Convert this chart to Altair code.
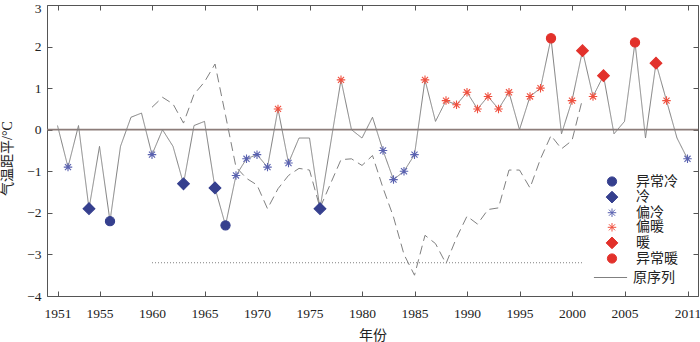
import altair as alt
import pandas as pd

# ---------------- data ----------------
YEARS = list(range(1951, 2012))
ANOMALY = [0.1, -0.9, 0.1, -1.9, -0.4, -2.2, -0.4, 0.3, 0.4, -0.6,
           0.0, -0.4, -1.3, 0.1, 0.2, -1.4, -2.3, -1.1, -0.7, -0.6,
           -0.9, 0.5, -0.8, -0.2, -0.2, -1.9, -0.35, 1.2, 0.0, -0.2,
           0.3, -0.5, -1.2, -1.0, -0.6, 1.2, 0.2, 0.7, 0.6, 0.9,
           0.5, 0.8, 0.5, 0.9, 0.0, 0.8, 1.0, 2.2, -0.1, 0.7,
           1.9, 0.8, 1.3, -0.1, 0.2, 2.1, -0.2, 1.6, 0.7, -0.2,
           -0.7]
GRADE = ["", "偏冷", "", "冷", "", "异常冷", "", "", "", "偏冷",
         "", "", "冷", "", "", "冷", "异常冷", "偏冷", "偏冷", "偏冷",
         "偏冷", "偏暖", "偏冷", "", "", "冷", "", "偏暖", "", "",
         "", "偏冷", "偏冷", "偏冷", "偏冷", "偏暖", "", "偏暖", "偏暖", "偏暖",
         "偏暖", "偏暖", "偏暖", "偏暖", "", "偏暖", "偏暖", "异常暖", "", "偏暖",
         "暖", "偏暖", "暖", "", "", "异常暖", "", "暖", "偏暖", "",
         "偏冷"]

DASH_YEARS = list(range(1960, 2002))
DASH_VALUES = [0.54, 0.78, 0.62, 0.16, 0.85, 1.15, 1.58, 0.35, -0.9, -1.17,
               -1.33, -1.9, -1.42, -1.1, -0.93, -0.97, -1.88, -1.3, -0.72, -0.7,
               -0.86, -0.62, -1.4, -2.1, -3.0, -3.5, -2.54, -2.74, -3.22, -2.6,
               -2.08, -2.27, -1.92, -1.88, -0.97, -0.97, -1.4, -0.7, -0.14, -0.46,
               -0.26, 0.74]

THRESH_YEARS = [1960, 2001]
THRESH_VALUES = [-3.2, -3.2]
ZERO = [0]

CATEGORIES = ["异常冷", "冷", "偏冷", "偏暖", "暖", "异常暖"]
SERIES_NAME = "原序列"

X_TICKS = [1951, 1955, 1960, 1965, 1970, 1975, 1980, 1985, 1990, 1995, 2000, 2005, 2011]
Y_TICKS = [-4, -3, -2, -1, 0, 1, 2, 3]
Y_TICKS_LOW = [-4, -3, -2, -1, 0, 1, 2]
Y_TICK_TOP = [3]

# ---------------- tables ----------------
series_df = pd.DataFrame({"year": YEARS, "value": ANOMALY, "series": SERIES_NAME})
points_df = pd.DataFrame({"year": YEARS, "value": ANOMALY, "grade": GRADE})
points_df = points_df[points_df["grade"] != ""]
dash_df = pd.DataFrame({"year": DASH_YEARS, "value": DASH_VALUES})
thresh_df = pd.DataFrame({"year": THRESH_YEARS, "value": THRESH_VALUES})
zero_df = pd.DataFrame({"value": ZERO})

# ---------------- styling ----------------
W, H = 651, 291
FONT = "'Liberation Serif', 'Noto Sans CJK SC', serif"
BLUE = "#353F8E"
BLUE_STAR = "#5A62B0"
RED = "#E2312B"
RED_STAR = "#F0503F"
GRAY = "#808080"
ASTER = "M-1,0L1,0M0,-1L0,1M-0.72,-0.72L0.72,0.72M-0.72,0.72L0.72,-0.72"

xs = alt.Scale(domain=[1950, 2012], nice=False, zero=False)
ys = alt.Scale(domain=[-4, 3], nice=False, zero=False)

cat_legend = alt.Legend(title=None, orient="none", legendX=558, legendY=169.5,
                        symbolSize=100, labelOffset=17, rowPadding=0.6,
                        padding=0, symbolStrokeWidth=1)
color_scale = alt.Scale(domain=CATEGORIES, range=[BLUE, BLUE, BLUE_STAR, RED_STAR, RED, RED])
shape_scale = alt.Scale(domain=CATEGORIES, range=["circle", "diamond", ASTER, ASTER, "diamond", "circle"])
size_scale = alt.Scale(type="ordinal", domain=CATEGORIES, range=[85, 137, 72, 72, 137, 85])

ticks_only = dict(labels=False, domain=False, grid=False, ticks=True, tickSize=5,
                  title=None, tickColor="#555")

zero_rule = alt.Chart(zero_df).mark_rule(color="#8C7C79", strokeWidth=1.8).encode(
    y=alt.Y("value:Q", scale=ys, axis=None)
)

# this layer also carries the top-most y label, nudged so it stays inside the page
thresh = alt.Chart(thresh_df).mark_line(color=GRAY, strokeWidth=1, strokeDash=[1, 2]).encode(
    x=alt.X("year:Q", scale=xs, axis=None),
    y=alt.Y("value:Q", scale=ys,
            axis=alt.Axis(orient="left", values=Y_TICK_TOP, format="d", ticks=False,
                          tickSize=0, domain=False, grid=False, labelPadding=6,
                          labelOffset=3, title=None)),
)

dashed = alt.Chart(dash_df).mark_line(color=GRAY, strokeWidth=1, strokeDash=[9, 5]).encode(
    x=alt.X("year:Q", scale=xs,
            axis=alt.Axis(orient="bottom", offset=-H, values=X_TICKS, **ticks_only)),
    y=alt.Y("value:Q", scale=ys,
            axis=alt.Axis(orient="left", offset=-W, values=Y_TICKS, **ticks_only)),
)

solid = alt.Chart(series_df).mark_line(color=GRAY, strokeWidth=1).encode(
    x=alt.X("year:Q", scale=xs,
            axis=alt.Axis(orient="bottom", values=X_TICKS, format="d", ticks=False,
                          tickSize=0, domain=False, grid=False, labelPadding=10,
                          title="年份", titlePadding=9)),
    y=alt.Y("value:Q", scale=ys,
            axis=alt.Axis(orient="left", values=Y_TICKS_LOW, format="d", ticks=False,
                          tickSize=0, domain=False, grid=False, labelPadding=6,
                          title="气温距平/°C", titlePadding=12, titleY=153)),
    strokeDash=alt.StrokeDash("series:N",
                              scale=alt.Scale(domain=[SERIES_NAME], range=[[1, 0]]),
                              legend=alt.Legend(title=None, orient="none", legendX=546,
                                                legendY=255, symbolType="stroke",
                                                symbolSize=1100, symbolStrokeColor=GRAY,
                                                symbolStrokeWidth=1.2, labelOffset=5,
                                                padding=0)),
)

points = alt.Chart(points_df).mark_point(filled=True, strokeWidth=1.1, opacity=1).encode(
    x=alt.X("year:Q", scale=xs,
            axis=alt.Axis(orient="top", offset=-H, values=X_TICKS, **ticks_only)),
    y=alt.Y("value:Q", scale=ys,
            axis=alt.Axis(orient="right", offset=-W, values=Y_TICKS, **ticks_only)),
    color=alt.Color("grade:N", scale=color_scale, legend=cat_legend),
    stroke=alt.Stroke("grade:N", scale=color_scale, legend=cat_legend),
    shape=alt.Shape("grade:N", scale=shape_scale, legend=cat_legend),
    size=alt.Size("grade:N", scale=size_scale, legend=None),
)

chart = alt.layer(zero_rule, thresh, dashed, solid, points).resolve_axis(
    x="independent", y="independent"
).properties(
    width=W, height=H,
    padding={"left": 47, "top": 5, "right": 2, "bottom": 46},
    autosize=alt.AutoSizeParams(type="none"),
    background="white",
).configure_view(
    stroke="#555", strokeWidth=1
).configure_axis(
    labelFont=FONT, labelFontSize=13.5, labelColor="#222",
    titleFont=FONT, titleFontSize=14, titleFontWeight="normal", titleColor="#222",
).configure_legend(
    labelFont=FONT, labelFontSize=14, labelColor="#222"
)

chart.save("out.html", embed_options={"renderer": "svg", "actions": False})
